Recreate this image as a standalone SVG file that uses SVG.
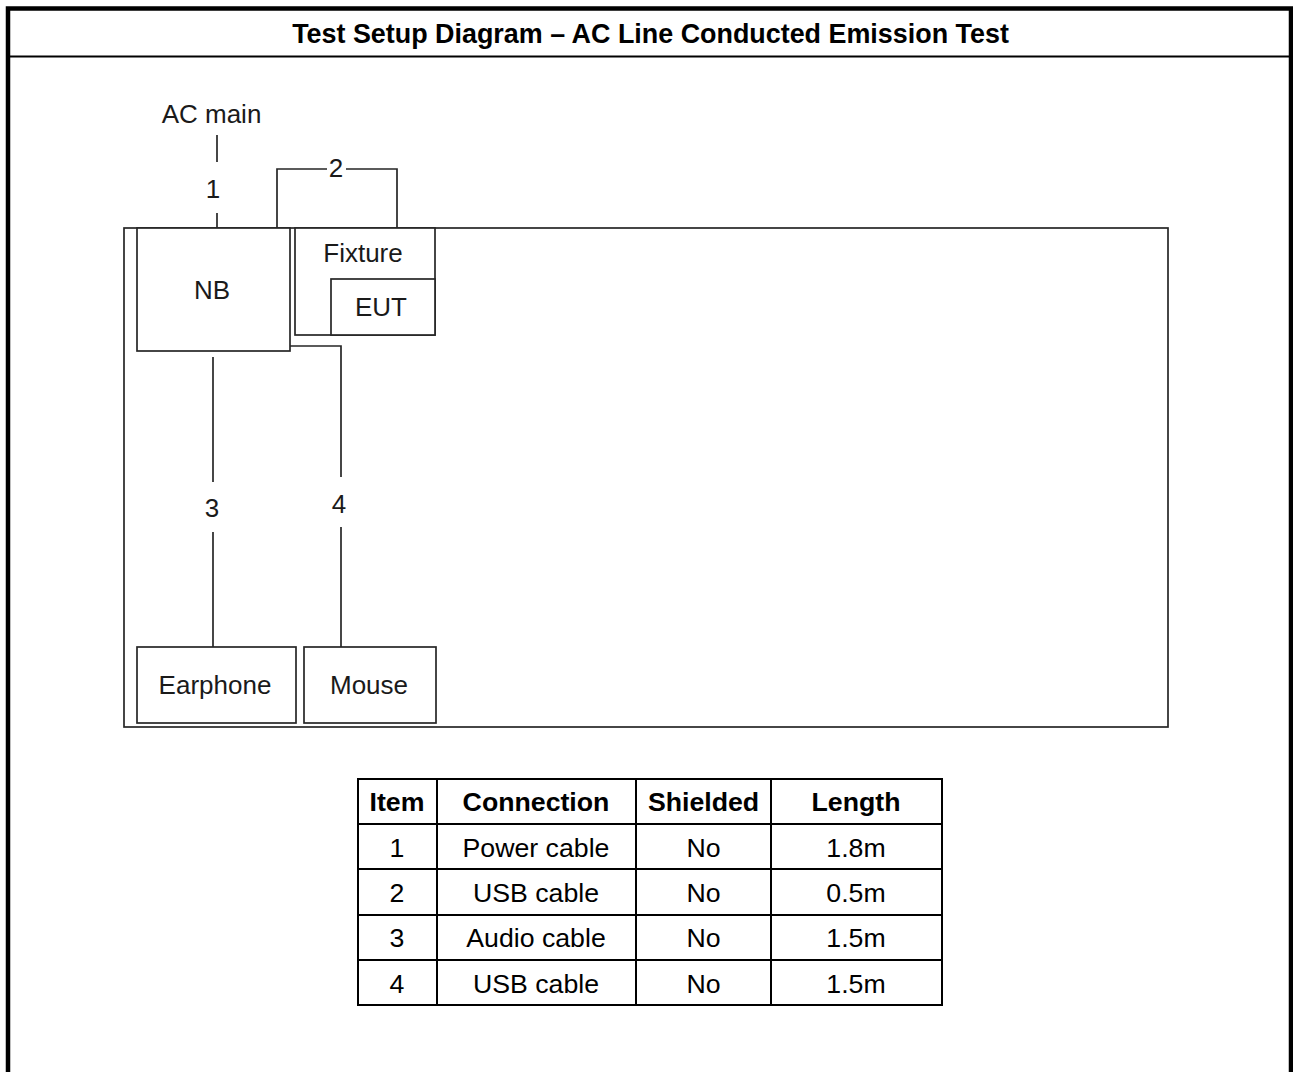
<svg xmlns="http://www.w3.org/2000/svg" width="1293" height="1072" viewBox="0 0 1293 1072">
<style>
.frame{fill:none;stroke:#000;stroke-width:4.5}
.sep{stroke:#000;stroke-width:2}
.box{fill:#fff;stroke:#262626;stroke-width:1.7}
.bench{fill:none;stroke:#262626;stroke-width:1.7}
.wire{fill:none;stroke:#262626;stroke-width:1.7}
.lbl{font-family:"Liberation Sans",Arial,sans-serif;font-size:26px;fill:#1a1a1a;text-anchor:middle}
.title{font-family:"Liberation Sans",Arial,sans-serif;font-size:26.9px;font-weight:bold;fill:#000;text-anchor:middle}
.th{font-family:"Liberation Sans",Arial,sans-serif;font-size:26.7px;font-weight:bold;fill:#000;text-anchor:middle}
.td{font-family:"Liberation Sans",Arial,sans-serif;font-size:26.7px;fill:#000;text-anchor:middle}
.tl{stroke:#000;stroke-width:2;fill:none}
</style>
<rect width="1293" height="1072" fill="#fff"/>
<g id="frame">
<path class="frame" d="M8,1072 V8.5 H1291 V1072"/>
<line class="sep" x1="8" y1="56.5" x2="1291" y2="56.5"/>
<text class="title" x="650.5" y="43">Test Setup Diagram – AC Line Conducted Emission Test</text>
</g>
<g id="bench"><rect class="bench" x="124" y="228" width="1044" height="499"/></g>
<g id="connectors">
<line class="wire" x1="217" y1="135" x2="217" y2="162"/>
<line class="wire" x1="217" y1="213" x2="217" y2="228"/>
<text class="lbl" x="213" y="198">1</text>
<path class="wire" d="M277,228 V169 H327"/>
<path class="wire" d="M346,169 H397 V228"/>
<text class="lbl" x="336" y="177">2</text>
<line class="wire" x1="213" y1="357" x2="213" y2="482"/>
<line class="wire" x1="213" y1="532" x2="213" y2="647"/>
<text class="lbl" x="212" y="517">3</text>
<path class="wire" d="M290,346 H341 V477"/>
<line class="wire" x1="341" y1="527" x2="341" y2="647"/>
<text class="lbl" x="339" y="513">4</text>
</g>
<g id="acmain"><text class="lbl" x="211.5" y="123">AC main</text></g>
<g id="nb"><rect class="box" x="137" y="228" width="153" height="123"/><text class="lbl" x="212" y="299">NB</text></g>
<g id="fixture"><rect class="box" x="295" y="228" width="140" height="107"/><text class="lbl" x="363" y="262">Fixture</text></g>
<g id="eut"><rect class="box" x="331" y="279" width="104" height="56"/><text class="lbl" x="381" y="316">EUT</text></g>
<g id="earphone"><rect class="box" x="137" y="647" width="159" height="76"/><text class="lbl" x="215" y="694">Earphone</text></g>
<g id="mouse"><rect class="box" x="304" y="647" width="132" height="76"/><text class="lbl" x="369" y="694">Mouse</text></g>
<g id="table">
<rect class="tl" x="358" y="779" width="584" height="226"/>
<line class="tl" x1="437" y1="779" x2="437" y2="1005"/>
<line class="tl" x1="636" y1="779" x2="636" y2="1005"/>
<line class="tl" x1="771" y1="779" x2="771" y2="1005"/>
<line class="tl" x1="358" y1="824" x2="942" y2="824"/>
<line class="tl" x1="358" y1="869" x2="942" y2="869"/>
<line class="tl" x1="358" y1="915" x2="942" y2="915"/>
<line class="tl" x1="358" y1="960" x2="942" y2="960"/>
<text class="th" x="397" y="811">Item</text>
<text class="th" x="536" y="811">Connection</text>
<text class="th" x="703.5" y="811">Shielded</text>
<text class="th" x="856" y="811">Length</text>
<text class="td" x="397" y="857">1</text>
<text class="td" x="536" y="857">Power cable</text>
<text class="td" x="703.5" y="857">No</text>
<text class="td" x="856" y="857">1.8m</text>
<text class="td" x="397" y="902">2</text>
<text class="td" x="536" y="902">USB cable</text>
<text class="td" x="703.5" y="902">No</text>
<text class="td" x="856" y="902">0.5m</text>
<text class="td" x="397" y="947">3</text>
<text class="td" x="536" y="947">Audio cable</text>
<text class="td" x="703.5" y="947">No</text>
<text class="td" x="856" y="947">1.5m</text>
<text class="td" x="397" y="993">4</text>
<text class="td" x="536" y="993">USB cable</text>
<text class="td" x="703.5" y="993">No</text>
<text class="td" x="856" y="993">1.5m</text>
</g>
</svg>
